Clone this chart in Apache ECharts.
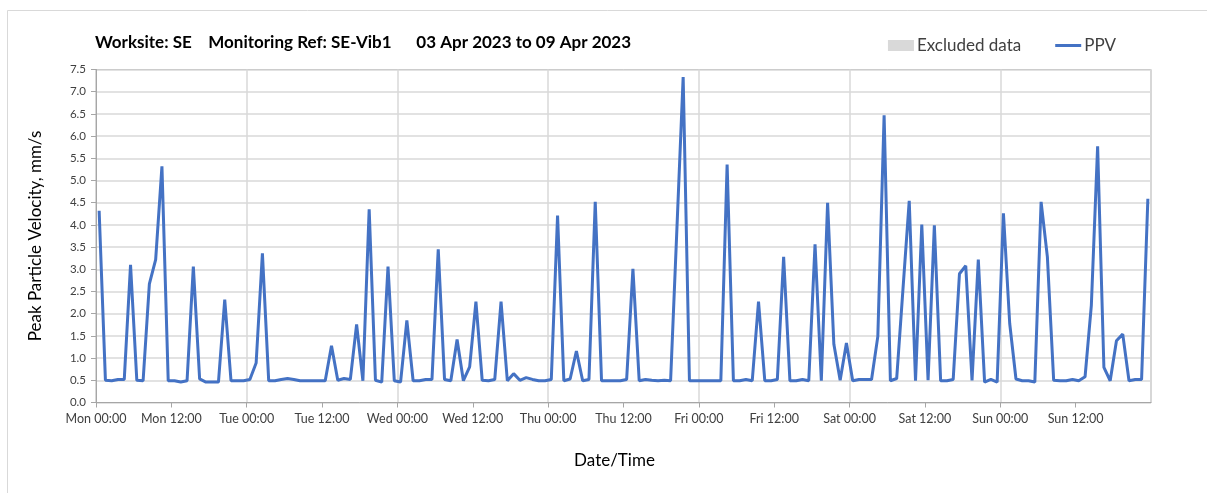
<!DOCTYPE html>
<html>
<head>
<meta charset="utf-8">
<script src="https://cdn.jsdelivr.net/npm/echarts@6/dist/echarts.min.js"></script>
<style>
html,body{margin:0;padding:0;background:#fff;}
#chart{width:1207px;height:493px;}
</style>
</head>
<body>
<div id="chart"></div>
<script>
// Title & labels
const chartTitle = 'Worksite: SE    Monitoring Ref: SE-Vib1      03 Apr 2023 to 09 Apr 2023';
const xTickLabels = ['Mon 00:00','Mon 12:00','Tue 00:00','Tue 12:00','Wed 00:00','Wed 12:00','Thu 00:00','Thu 12:00','Fri 00:00','Fri 12:00','Sat 00:00','Sat 12:00','Sun 00:00','Sun 12:00'];
// Hourly readings, plotted at the middle of each hour (hours since Mon 00:00)
const ppv = [
  4.32,0.50,0.49,0.52,0.52,3.10,0.50,0.49,2.67,3.22,5.32,0.49,
  0.49,0.46,0.49,3.06,0.53,0.46,0.46,0.46,2.32,0.49,0.49,0.49,
  0.52,0.89,3.36,0.49,0.49,0.52,0.54,0.52,0.49,0.49,0.49,0.49,
  0.49,1.28,0.50,0.54,0.52,1.76,0.49,4.35,0.50,0.46,3.06,0.49,
  0.46,1.85,0.49,0.49,0.52,0.52,3.45,0.52,0.49,1.42,0.49,0.80,
  2.27,0.50,0.49,0.52,2.27,0.49,0.65,0.50,0.56,0.52,0.49,0.49,
  0.52,4.21,0.49,0.53,1.16,0.49,0.52,4.52,0.49,0.49,0.49,0.49,
  0.52,3.01,0.49,0.52,0.50,0.49,0.50,0.49,3.90,7.33,0.49,0.49,
  0.49,0.49,0.49,0.49,5.36,0.49,0.49,0.52,0.49,2.27,0.49,0.49,
  0.52,3.28,0.49,0.49,0.52,0.49,3.56,0.49,4.50,1.31,0.50,1.34,
  0.49,0.52,0.52,0.52,1.49,6.47,0.49,0.54,2.55,4.54,0.49,4.01,
  0.50,3.99,0.49,0.49,0.52,2.90,3.08,0.50,3.22,0.46,0.52,0.46,
  4.26,1.78,0.53,0.49,0.49,0.46,4.52,3.28,0.50,0.49,0.49,0.52,
  0.49,0.58,2.19,5.77,0.79,0.49,1.39,1.54,0.49,0.52,0.52,4.59
];
const excluded = [];
const hourOffset = 0.5;

const ppvData = ppv.map((v, i) => [i + hourOffset, v]);

const chart = echarts.init(document.getElementById('chart'), null, {renderer: 'canvas'});
const font = 'Lato, "Open Sans", sans-serif';
const option = {
  animation: false,
  backgroundColor: '#fff',
  textStyle: {fontFamily: font},
  graphic: [{
    type: 'rect', left: 5, top: 8, silent: true,
    shape: {width: 1230, height: 520},
    style: {fill: 'none', stroke: '#d9d9d9', lineWidth: 1}
  }],
  title: {
    text: chartTitle, left: 90, top: 29,
    textStyle: {fontFamily: font, fontSize: 17, fontWeight: 'bold', color: '#000'}
  },
  legend: {
    right: 86, top: 32,
    itemWidth: 26, itemHeight: 11, itemGap: 34,
    textStyle: {fontFamily: font, fontSize: 17, color: '#404040', padding: [0,0,0,-2]},
    data: [
      {name: 'Excluded data', icon: 'rect'},
      {name: 'PPV', icon: 'path://M0,0 L26,0 L26,3 L0,3 Z'}
    ]
  },
  grid: {
    left: 96, right: 56, top: 69.5, bottom: 90.5,
    show: true, borderColor: '#a6a6a6', borderWidth: 1, backgroundColor: 'transparent'
  },
  xAxis: [{
    type: 'value', min: 0, max: 168, interval: 12,
    name: 'Date/Time', nameLocation: 'middle', nameGap: 50,
    nameTextStyle: {fontFamily: font, fontSize: 17, color: '#000', padding: [0, 18, 0, 0]},
    axisLine: {show: true, lineStyle: {color: '#a6a6a6', width: 1}},
    axisTick: {show: true, length: 5, lineStyle: {color: '#a6a6a6'}},
    splitLine: {show: false},
    axisLabel: {
      fontFamily: font, fontSize: 12.5, color: '#404040', margin: 10,
      showMaxLabel: false,
      formatter: v => xTickLabels[Math.round(v / 12)] || ''
    }
  }, {
    type: 'value', min: 0, max: 168, interval: 24, position: 'bottom',
    axisLine: {show: false}, axisTick: {show: false}, axisLabel: {show: false},
    splitLine: {show: true, lineStyle: {color: '#d9d9d9', width: 1.5}}
  }],
  yAxis: {
    type: 'value', min: 0, max: 7.5, interval: 0.5,
    name: 'Peak Particle Velocity, mm/s', nameLocation: 'middle', nameGap: 52,
    nameTextStyle: {fontFamily: font, fontSize: 17, color: '#000'},
    axisLine: {show: true, lineStyle: {color: '#a6a6a6', width: 1}},
    axisTick: {show: true, length: 5, lineStyle: {color: '#a6a6a6'}},
    splitLine: {show: true, lineStyle: {color: '#d9d9d9', width: 1.5}},
    axisLabel: {fontFamily: font, fontSize: 11.5, color: '#404040', margin: 10,
      formatter: v => v.toFixed(1)}
  },
  series: [{
    name: 'Excluded data', type: 'bar', data: excluded,
    itemStyle: {color: '#d9d9d9'}
  }, {
    name: 'PPV', type: 'line', data: ppvData, xAxisIndex: 0,
    symbol: 'none', showSymbol: false,
    lineStyle: {color: '#4472c4', width: 3},
    itemStyle: {color: '#4472c4'}
  }]
};
chart.setOption(option);
</script>
</body>
</html>
